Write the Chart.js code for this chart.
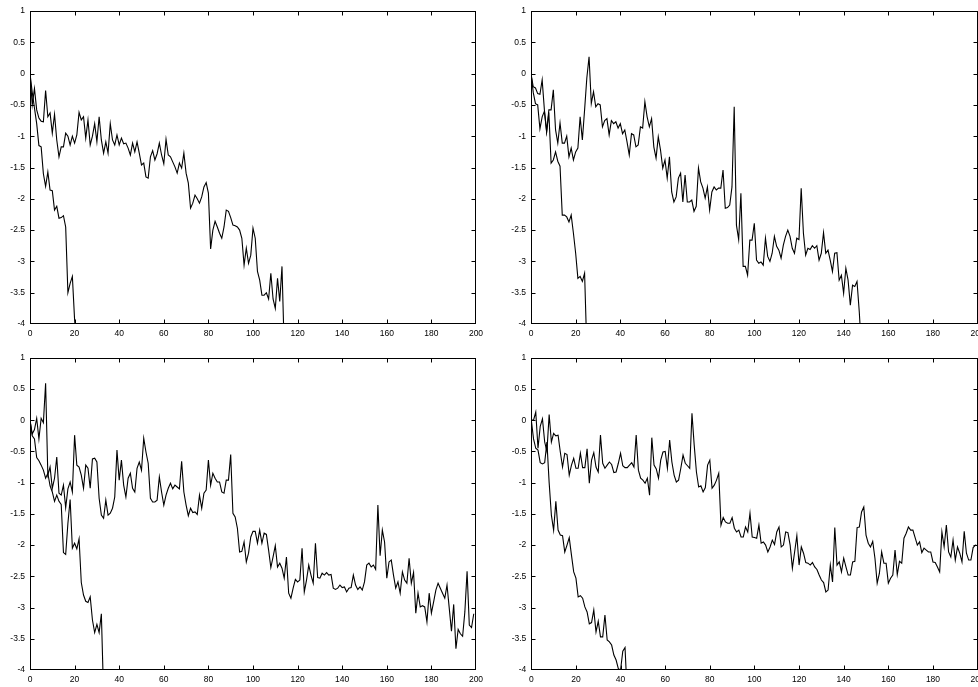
<!DOCTYPE html>
<html>
<head>
<meta charset="utf-8">
<script src="https://cdn.jsdelivr.net/npm/chart.js@4.4.1/dist/chart.umd.min.js"></script>
<style>
  html, body { margin: 0; padding: 0; background: #fff; }
  #wrap { position: relative; width: 978px; height: 687px; overflow: hidden; background: #fff; }
  canvas { position: absolute; }
</style>
</head>
<body>
<div id="wrap">
  <canvas id="c1" width="489" height="344" style="left:0px;top:0px;width:489px;height:344px"></canvas>
  <canvas id="c2" width="477" height="344" style="left:501px;top:0px;width:477px;height:344px"></canvas>
  <canvas id="c3" width="489" height="343" style="left:0px;top:344px;width:489px;height:343px"></canvas>
  <canvas id="c4" width="477" height="343" style="left:501px;top:344px;width:477px;height:343px"></canvas>
</div>
<script>
// ---- axis settings / tick labels ----
const xMin = 0, xMax = 200, xStep = 20;
const yMin = -4, yMax = 1, yStep = 0.5;
const xTickLabels = [0, 20, 40, 60, 80, 100, 120, 140, 160, 180, 200];
const yTickLabels = [1, 0.5, 0, -0.5, -1, -1.5, -2, -2.5, -3, -3.5, -4];

// ---- series values (index = x) ----
const panel1Upper = [0,-0.5,-0.24,-0.58,-0.71,-0.76,-0.77,-0.27,-0.69,-0.63,
  -0.95,-0.65,-1.06,-1.33,-1.17,-1.17,-0.95,-1.0,-1.14,-1.0,
  -1.11,-0.98,-0.62,-0.74,-0.69,-1.03,-0.74,-1.14,-1.0,-0.8,
  -1.09,-0.69,-1.06,-1.27,-1.09,-1.27,-0.8,-1.06,-1.14,-0.98,
  -1.14,-1.03,-1.12,-1.11,-1.19,-1.3,-1.11,-1.25,-1.09,-1.27,
  -1.46,-1.43,-1.65,-1.67,-1.33,-1.23,-1.38,-1.28,-1.11,-1.3,
  -1.44,-1.05,-1.3,-1.33,-1.41,-1.49,-1.59,-1.43,-1.51,-1.27,
  -1.59,-1.75,-2.15,-2.07,-1.94,-2.0,-2.07,-1.97,-1.81,-1.74,
  -1.91,-2.8,-2.5,-2.36,-2.45,-2.55,-2.63,-2.45,-2.18,-2.2,
  -2.3,-2.42,-2.43,-2.45,-2.5,-2.63,-3.06,-2.79,-3.03,-2.9,
  -2.47,-2.63,-3.16,-3.3,-3.54,-3.54,-3.5,-3.6,-3.19,-3.6,
  -3.75,-3.27,-3.64,-3.08,-4.4];
const panel1Lower = [0,-0.3,-0.55,-0.8,-1.15,-1.17,-1.6,-1.8,-1.57,-1.86,
  -1.87,-2.18,-2.12,-2.31,-2.3,-2.27,-2.45,-3.5,-3.35,-3.24,
  -3.93,-4.4];

const panel2Upper = [0,-0.21,-0.23,-0.32,-0.33,-0.1,-0.58,-0.93,-0.58,-0.58,
  -0.26,-0.9,-1.11,-0.79,-1.11,-1.11,-1.0,-1.33,-1.19,-1.38,
  -1.25,-1.19,-0.69,-1.06,-0.58,-0.07,0.27,-0.48,-0.29,-0.53,
  -0.48,-0.5,-0.85,-0.75,-0.72,-0.98,-0.75,-0.8,-0.77,-0.87,
  -0.8,-0.96,-0.9,-1.09,-1.3,-0.96,-0.98,-1.17,-1.14,-0.85,
  -0.87,-0.45,-0.69,-0.85,-0.72,-1.17,-1.35,-1.01,-1.22,-1.51,
  -1.38,-1.67,-1.33,-1.89,-2.05,-1.97,-1.67,-1.59,-2.05,-1.62,
  -2.05,-2.05,-2.02,-2.2,-2.12,-1.51,-1.73,-1.83,-1.99,-1.81,
  -2.18,-1.89,-1.81,-1.86,-1.83,-1.83,-1.54,-2.15,-2.14,-2.1,
  -1.81,-0.53,-2.42,-2.65,-1.91,-3.08,-3.08,-3.22,-2.66,-2.66,
  -2.39,-2.98,-3.03,-3.01,-3.06,-2.63,-2.92,-3.0,-2.87,-2.6,
  -2.76,-2.82,-2.95,-2.74,-2.6,-2.5,-2.6,-2.79,-2.87,-2.63,
  -2.65,-1.83,-2.55,-2.9,-2.79,-2.81,-2.75,-2.79,-2.75,-2.98,
  -2.87,-2.54,-2.87,-2.82,-2.98,-3.16,-2.87,-2.86,-3.3,-3.22,
  -3.51,-3.11,-3.3,-3.7,-3.38,-3.4,-3.32,-3.8,-4.4];
const panel2Lower = [0,-0.3,-0.48,-0.5,-0.88,-0.69,-0.6,-0.93,-0.62,-1.43,
  -1.38,-1.25,-1.4,-1.48,-2.26,-2.26,-2.29,-2.37,-2.26,-2.55,
  -2.87,-3.27,-3.24,-3.32,-3.19,-4.4];

const panel3Upper = [0,-0.22,-0.15,0.03,-0.3,0.03,-0.04,0.59,-0.88,-0.75,
  -1.09,-0.93,-0.59,-1.17,-1.2,-1.04,-1.4,-1.1,-0.99,-1.15,
  -0.24,-0.72,-0.75,-0.88,-1.09,-0.72,-0.77,-1.09,-0.62,-0.61,
  -0.67,-1.25,-1.52,-1.57,-1.28,-1.52,-1.49,-1.41,-1.23,-0.48,
  -0.96,-0.64,-1.04,-1.23,-0.93,-0.85,-1.09,-1.15,-0.77,-0.67,
  -0.8,-0.29,-0.51,-0.69,-1.25,-1.31,-1.31,-1.28,-0.91,-1.15,
  -1.36,-1.2,-1.09,-1.01,-1.1,-1.04,-1.07,-1.1,-0.66,-1.15,
  -1.36,-1.53,-1.41,-1.48,-1.47,-1.51,-1.2,-1.41,-1.17,-1.12,
  -0.64,-1.04,-0.85,-0.93,-0.99,-0.99,-1.15,-1.17,-0.96,-0.96,
  -0.55,-1.49,-1.55,-1.73,-2.11,-2.1,-1.95,-2.27,-2.13,-1.87,
  -1.78,-1.78,-1.97,-1.76,-1.97,-1.81,-1.83,-2.08,-2.36,-2.19,
  -2.01,-2.35,-2.29,-2.37,-2.53,-2.19,-2.77,-2.85,-2.69,-2.55,
  -2.59,-2.56,-2.05,-2.75,-2.56,-2.32,-2.48,-2.61,-1.97,-2.52,
  -2.53,-2.45,-2.48,-2.44,-2.48,-2.47,-2.69,-2.71,-2.69,-2.64,
  -2.68,-2.67,-2.75,-2.69,-2.68,-2.48,-2.64,-2.71,-2.67,-2.72,
  -2.59,-2.32,-2.29,-2.35,-2.32,-2.39,-1.36,-2.17,-1.76,-1.95,
  -2.53,-2.27,-2.24,-2.48,-2.69,-2.59,-2.77,-2.43,-2.56,-2.61,
  -2.21,-2.61,-2.44,-3.09,-2.77,-2.99,-2.97,-2.99,-3.23,-2.77,
  -3.09,-2.91,-2.72,-2.61,-2.69,-2.77,-2.85,-2.64,-3.01,-3.38,
  -2.95,-3.66,-3.35,-3.42,-3.46,-3.07,-2.42,-3.28,-3.32,-3.1];
const panel3Lower = [0,-0.25,-0.3,-0.6,-0.65,-0.72,-0.8,-0.93,-0.85,-1.05,
  -1.15,-1.3,-1.2,-1.3,-1.35,-2.12,-2.15,-1.65,-1.27,-2.05,
  -1.97,-2.06,-1.9,-2.6,-2.8,-2.9,-2.92,-2.83,-3.2,-3.4,
  -3.27,-3.4,-3.1,-4.4];

const panel4Upper = [0,0,0.13,-0.45,-0.1,0.02,-0.35,-0.5,0.09,-0.35,
  -0.21,-0.25,-0.24,-0.51,-0.75,-0.53,-0.55,-0.88,-0.72,-0.61,
  -0.77,-0.77,-0.53,-0.76,-0.76,-0.46,-1.01,-0.64,-0.52,-0.75,
  -0.83,-0.24,-0.69,-0.77,-0.72,-0.67,-0.71,-0.84,-0.83,-0.69,
  -0.53,-0.73,-0.76,-0.76,-0.72,-0.68,-0.75,-0.24,-0.8,-0.93,
  -0.96,-1.01,-0.93,-1.2,-0.28,-0.72,-0.78,-0.93,-0.64,-0.51,
  -0.5,-0.77,-0.32,-0.67,-0.88,-0.99,-0.96,-0.77,-0.56,-0.69,
  -0.73,-0.77,0.11,-0.4,-0.83,-1.07,-1.05,-1.15,-1.08,-0.72,
  -0.64,-1.09,-1.04,-0.96,-0.85,-1.68,-1.56,-1.63,-1.65,-1.65,
  -1.56,-1.73,-1.79,-1.76,-1.87,-1.87,-1.71,-1.79,-1.49,-1.87,
  -1.88,-1.89,-1.68,-1.97,-1.95,-2.0,-2.11,-2.03,-1.92,-1.99,
  -1.79,-1.71,-2.03,-2.0,-1.79,-1.8,-2.0,-2.37,-2.11,-1.85,
  -2.32,-2.03,-2.13,-2.28,-2.29,-2.32,-2.28,-2.35,-2.39,-2.48,
  -2.56,-2.6,-2.75,-2.72,-2.32,-2.59,-1.72,-2.32,-2.27,-2.43,
  -2.21,-2.35,-2.48,-2.48,-2.27,-2.26,-1.72,-1.71,-1.47,-1.39,
  -1.84,-1.97,-2.03,-1.94,-2.21,-2.61,-2.45,-2.11,-2.29,-2.29,
  -2.61,-2.53,-2.48,-2.08,-2.47,-2.26,-2.29,-1.89,-1.81,-1.71,
  -1.76,-1.76,-1.88,-2.0,-1.95,-2.12,-2.05,-2.08,-2.11,-2.11,
  -2.27,-2.28,-2.35,-2.43,-1.79,-2.03,-1.68,-2.11,-2.19,-1.92,
  -2.24,-2.03,-2.13,-2.27,-1.78,-2.13,-2.24,-2.24,-2.04,-2.0,
  -2.01];
const panel4Lower = [0,-0.3,-0.45,-0.48,-0.68,-0.7,-0.68,-0.35,-1.0,-1.52,
  -1.76,-1.3,-1.76,-1.84,-1.85,-2.11,-2.0,-1.88,-2.16,-2.43,
  -2.53,-2.83,-2.81,-2.85,-2.99,-3.07,-3.26,-3.24,-3.04,-3.39,
  -3.22,-3.47,-3.47,-3.12,-3.52,-3.55,-3.6,-3.76,-3.84,-3.98,
  -4.0,-3.7,-3.64,-4.4];

// ---- helpers ----
const toPoints = arr => arr.map((v, i) => ({ x: i, y: v }));
const FONT = { family: '"Liberation Sans", Arial, Helvetica, sans-serif', size: 8.5 };
const clamp = (v, lo, hi) => Math.min(Math.max(v, lo), hi);

const frameTicks = {
  id: 'frameTicks',
  afterDatasetsDraw(chart) {
    const ctx = chart.ctx, a = chart.chartArea;
    const xs = chart.scales.x, ys = chart.scales.y;
    const L = Math.round(a.left) + 0.5, R = Math.round(a.right) - 0.5;
    const T = Math.round(a.top) + 0.5, B = Math.round(a.bottom) - 0.5;
    const len = 4;
    ctx.save();
    ctx.strokeStyle = '#000';
    ctx.lineWidth = 1;
    ctx.beginPath();
    xTickLabels.forEach(v => {
      const px = clamp(Math.round(xs.getPixelForValue(v)) + 0.5, L, R);
      ctx.moveTo(px, B); ctx.lineTo(px, B - len);
      ctx.moveTo(px, T); ctx.lineTo(px, T + len);
    });
    yTickLabels.forEach(v => {
      const py = clamp(Math.round(ys.getPixelForValue(v)) + 0.5, T, B);
      ctx.moveTo(L, py); ctx.lineTo(L + len, py);
      ctx.moveTo(R, py); ctx.lineTo(R - len, py);
    });
    ctx.stroke();
    ctx.strokeRect(L, T, R - L, B - T);
    ctx.restore();
  }
};

function zeroPad(s) { s.paddingLeft = 0; s.paddingRight = 0; s.paddingTop = 0; s.paddingBottom = 0; }

function makePanel(id, upper, lower, pad, xHeight) {
  new Chart(document.getElementById(id), {
    type: 'line',
    data: {
      datasets: [
        { data: toPoints(upper), borderColor: '#000', borderWidth: 1.1, pointRadius: 0, tension: 0, fill: false },
        { data: toPoints(lower), borderColor: '#000', borderWidth: 1.1, pointRadius: 0, tension: 0, fill: false }
      ]
    },
    options: {
      responsive: false,
      animation: false,
      devicePixelRatio: 1,
      events: [],
      layout: { padding: pad, autoPadding: false },
      plugins: { legend: { display: false }, tooltip: { enabled: false }, title: { display: false } },
      scales: {
        x: {
          type: 'linear', min: xMin, max: xMax,
          grid: { display: false, drawTicks: false },
          border: { display: false },
          ticks: {
            stepSize: xStep, autoSkip: false, maxRotation: 0, padding: 5,
            color: '#000', font: FONT,
            callback: v => String(Math.round(v))
          },
          afterFit: s => { s.height = xHeight; zeroPad(s); }
        },
        y: {
          type: 'linear', min: yMin, max: yMax,
          grid: { display: false, drawTicks: false },
          border: { display: false },
          ticks: {
            stepSize: yStep, autoSkip: false, padding: 5,
            color: '#000', font: FONT,
            callback: v => String(Math.round(v * 10) / 10)
          },
          afterFit: s => { s.width = 30; zeroPad(s); }
        }
      }
    },
    plugins: [frameTicks]
  });
}

makePanel('c1', panel1Upper, panel1Lower, { left: 0, top: 11, right: 13, bottom: 0 }, 20);
makePanel('c2', panel2Upper, panel2Lower, { left: 0, top: 11, right: 0.4, bottom: 0 }, 20);
makePanel('c3', panel3Upper, panel3Lower, { left: 0, top: 13.7, right: 13, bottom: 0 }, 17);
makePanel('c4', panel4Upper, panel4Lower, { left: 0.3, top: 13.7, right: 0.4, bottom: 0 }, 17);
</script>
</body>
</html>
